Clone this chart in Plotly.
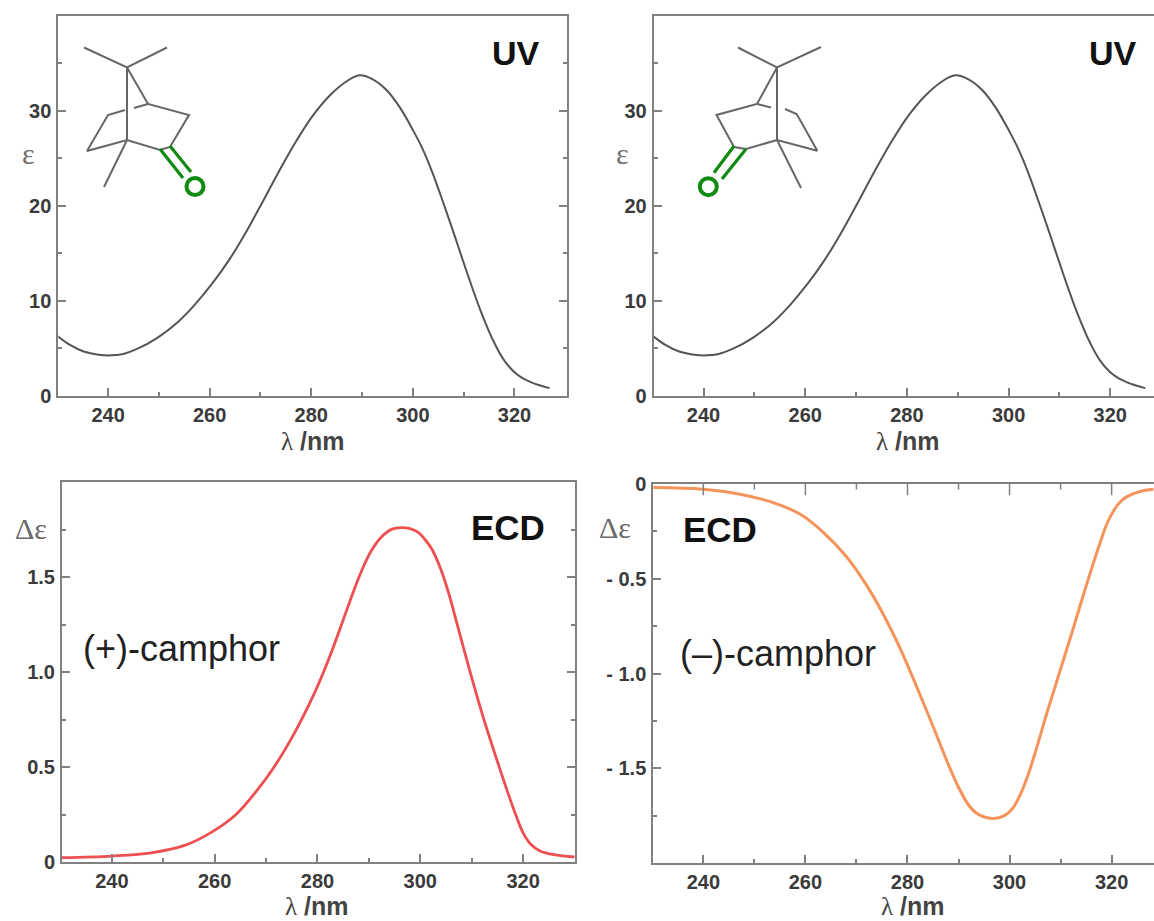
import plotly.graph_objects as go

W, H = 1154, 921

# --- data ---
uv_nm = [230, 232.5, 235.2, 237.8, 240.5, 243, 245.8, 249.7, 253.7, 257, 260.4, 263.7, 267, 270.3, 273.6, 276.9, 280.3,
         283.6, 286.9, 289.5, 292.2, 294.8, 297.4, 300.1, 302, 304, 306, 308, 310.7, 313.3, 316, 318,
         320.6, 323.3, 326.9]
uv_eps = [6.3, 5.35, 4.65, 4.35, 4.25, 4.4, 4.95, 6.1, 7.75, 9.55, 11.75, 14.2, 17.1, 20.3, 23.6, 26.7, 29.5,
          31.6, 33.1, 33.75, 33.3, 32.2, 30.4, 27.9, 25.9, 23.3, 20.3, 17.2, 12.9, 9.0, 5.6, 3.7,
          2.2, 1.4, 0.8]
plus_nm = [230, 240, 247.7, 254.3, 259.5, 264.1, 268, 271.4, 274.7, 278, 280, 282.5, 285.8, 287.5, 289.1,
           290.5, 292.4, 294.5, 296.3, 298, 299.6, 301, 302.3, 303.5, 304.6, 305.8, 307, 309.5, 312, 313.5, 315.8, 316.8,
           318.5, 320, 321.5, 323.3, 326, 330]
plus_de = [0.024, 0.033, 0.05, 0.09, 0.16, 0.25, 0.37, 0.495, 0.64, 0.81, 0.925, 1.09, 1.335, 1.46, 1.565,
           1.64, 1.71, 1.752, 1.76, 1.755, 1.735, 1.695, 1.645, 1.575, 1.495, 1.39, 1.27, 1.02, 0.785, 0.655, 0.465, 0.385,
           0.255, 0.155, 0.095, 0.06, 0.04, 0.028]
minus_nm = [230, 240, 247.2, 253.7, 259, 263.5, 268.1, 272, 275.3, 278.6, 281.8, 285.1, 288, 290,
            292, 294, 296.9, 299, 300.5, 302, 303.5, 305, 307.3, 309.9, 312.5, 315.1, 317.8, 319,
            320.3, 321.5, 322.9, 325.5, 328.2]
minus_de = [-0.019, -0.028, -0.054, -0.098, -0.16, -0.255, -0.385, -0.535, -0.69, -0.87, -1.07, -1.285,
            -1.48, -1.60, -1.695, -1.745, -1.765, -1.75, -1.715, -1.645, -1.545, -1.42, -1.21, -0.985,
            -0.76, -0.53, -0.305, -0.215, -0.145, -0.10, -0.068, -0.04, -0.028]

x_ticks = [240, 260, 280, 300, 320]
x_minor = [250, 270, 290, 310]
uv_ticks = [0, 10, 20, 30]
uv_minor = [5, 15, 25, 35]
plus_ticks = [0, 0.5, 1.0, 1.5]
plus_labels = ["0", "0.5", "1.0", "1.5"]
plus_minor = [0.25, 0.75, 1.25, 1.75]
minus_ticks = [0, -0.5, -1.0, -1.5]
minus_labels = ["0", "- 0.5", "- 1.0", "- 1.5"]
minus_minor = [-0.25, -0.75, -1.25, -1.75]

# Molecule sketches, in page pixels (overlay axes); None separates strokes
mol_a_x = [84, 127, 167, None, 127, 127, None, 127, 148, 189, 170, 160, 127, 87, 108, 125, None, 134, 148, None, 127, 104]
mol_a_y = [47.5, 67.5, 47.5, None, 67.5, 140, None, 67.5, 104, 115, 147, 150, 140, 151, 115, 110, None, 108, 104, None, 140, 187]
mol_a_dx = [160, 183, None, 170, 191]
mol_a_dy = [149, 178, None, 146, 172]
mol_a_o = (195, 186.5)
mol_b_x = [738, 777, 821, None, 777, 777, None, 777, 757, 716.5, 734, 746, 777, 817.3, 796.7, 785, None, 771, 757, None, 777, 801]
mol_b_y = [47.5, 67.5, 47, None, 67.5, 140, None, 67.5, 104, 115, 147, 149, 140, 150.7, 114, 109, None, 107.5, 104, None, 140, 188]
mol_b_dx = [734, 714, None, 746, 722]
mol_b_dy = [146, 172.7, None, 149, 179]
mol_b_o = (708.3, 186.7)

GREY = "#808080"
TXT = "#3a3a3a"
SERIF = "Liberation Serif"
SANS = "Liberation Sans"


def dx(a, b):
    return [a / W, min(b / W, 1)]


def dy(top, bottom):
    return [1 - bottom / H, 1 - top / H]


fig = go.Figure()
curve = dict(mode="lines", showlegend=False, hoverinfo="skip")
fig.add_trace(go.Scatter(x=uv_nm, y=uv_eps, xaxis="x", yaxis="y", line=dict(color="#555555", width=2, shape="spline"), **curve))
fig.add_trace(go.Scatter(x=uv_nm, y=uv_eps, xaxis="x2", yaxis="y2", line=dict(color="#555555", width=2, shape="spline"), **curve))
fig.add_trace(go.Scatter(x=plus_nm, y=plus_de, xaxis="x3", yaxis="y3", line=dict(color="#ee4f50", width=2.8, shape="spline"), **curve))
fig.add_trace(go.Scatter(x=minus_nm, y=minus_de, xaxis="x4", yaxis="y4", line=dict(color="#f4935a", width=3, shape="spline"), **curve))

# Top-edge tick marks of the lower right panel: line markers, half clipped by the plot area
for vals, size in [(x_ticks, 16), (x_minor, 8)]:
    fig.add_trace(go.Scatter(x=vals, y=[0] * len(vals), xaxis="x4", yaxis="y4", mode="markers", showlegend=False, hoverinfo="skip",
                             marker=dict(symbol="line-ns", size=size, line=dict(width=1.5, color=GREY))))

for mx, my, gx, gy, o in [(mol_a_x, mol_a_y, mol_a_dx, mol_a_dy, mol_a_o), (mol_b_x, mol_b_y, mol_b_dx, mol_b_dy, mol_b_o)]:
    fig.add_trace(go.Scatter(x=mx, y=my, xaxis="x5", yaxis="y5", line=dict(color="#666666", width=2), **curve))
    fig.add_trace(go.Scatter(x=gx, y=gy, xaxis="x5", yaxis="y5", line=dict(color="#0f8a12", width=3.2), **curve))
    fig.add_trace(go.Scatter(x=[o[0]], y=[o[1]], xaxis="x5", yaxis="y5", mode="markers", showlegend=False, hoverinfo="skip",
                             marker=dict(symbol="circle-open", size=17, color="#0f8a12", line=dict(width=4, color="#0f8a12"))))

tickfont = dict(family=SANS, size=20, color=TXT)
line = dict(showline=True, linecolor=GREY, linewidth=2, showgrid=False, zeroline=False,
            ticks="inside", ticklen=8, tickwidth=1.5, tickcolor=GREY, tickfont=tickfont)
minor = dict(ticks="inside", ticklen=4, tickwidth=1.5, tickcolor=GREY)


def xax(domain, rng, mirror):
    return dict(domain=domain, range=rng, tickvals=x_ticks, ticktext=[f"<b>{t}</b>" for t in x_ticks],
                mirror=mirror, ticklabelstandoff=0, minor=dict(tickvals=x_minor, **minor), **line)


def yax(domain, rng, vals, labels, mn, mirror):
    return dict(domain=domain, range=rng, tickvals=vals, ticktext=[f"<b>{t}</b>" for t in labels],
                mirror=mirror, ticklabelstandoff=1, minor=dict(tickvals=mn, **minor), **line)


fig.update_layout(
    width=W, height=H, autosize=False, margin=dict(l=0, r=0, t=0, b=0, autoexpand=False),
    paper_bgcolor="white", plot_bgcolor="rgba(0,0,0,0)", showlegend=False,
    xaxis=dict(anchor="y", **xax(dx(58.3, 567.3), [230.2, 330.4], True)),
    yaxis=dict(anchor="x", **yax(dy(16, 395.7), [0, 40], uv_ticks, uv_ticks, uv_minor, "ticks")),
    xaxis2=dict(anchor="y2", **xax(dx(653.7, 1154), [230.2, 328.6], True)),
    yaxis2=dict(anchor="x2", **yax(dy(16, 395.7), [0, 40], uv_ticks, uv_ticks, uv_minor, False)),
    xaxis3=dict(anchor="y3", **xax(dx(62, 575), [230.3, 330.1], True)),
    yaxis3=dict(anchor="x3", **yax(dy(482, 862.3), [0, 2], plus_ticks, plus_labels, plus_minor, "ticks")),
    xaxis4=dict(anchor="y4", **xax(dx(653.3, 1154), [230.2, 328.3], True)),
    yaxis4=dict(anchor="x4", **yax(dy(484, 863), [-2, 0], minus_ticks, minus_labels, minus_minor, False)),
    xaxis5=dict(domain=[0, 1], range=[0, W], visible=False, anchor="y5"),
    yaxis5=dict(domain=[0, 1], range=[H, 0], visible=False, anchor="x5"),
)


def note(text, x, y, size, color, family=SANS):
    fig.add_annotation(x=x, y=y, xref="x5", yref="y5", text=text, showarrow=False, xanchor="center", yanchor="middle",
                       font=dict(family=family, size=size, color=color))


axis_title = f'<span style="font-family:{SERIF}">λ</span><b> /nm</b>'
for x, y in [(313, 441), (908, 441), (317, 906), (913, 906)]:
    note(axis_title, x, y, 25, "#444444")
for x, y in [(28, 153), (622, 153)]:
    note("ε", x, y, 30, "#707070", SERIF)
note("Δε", 31, 528, 30, "#6a6a6a", SERIF)
note("Δε", 615, 527, 30, "#6a6a6a", SERIF)
note("<b>UV</b>", 516, 53, 34, "#111111")
note("<b>UV</b>", 1113, 53, 34, "#111111")
note("<b>ECD</b>", 508, 527, 35, "#111111")
note("<b>ECD</b>", 720, 529, 35, "#111111")
note("(+)-camphor", 181, 648, 36, "#222222")
note("(–)-camphor", 778, 653, 36, "#222222")

fig.write_html("out.html", config=dict(displayModeBar=False), post_script="document.body.style.margin='0';")
